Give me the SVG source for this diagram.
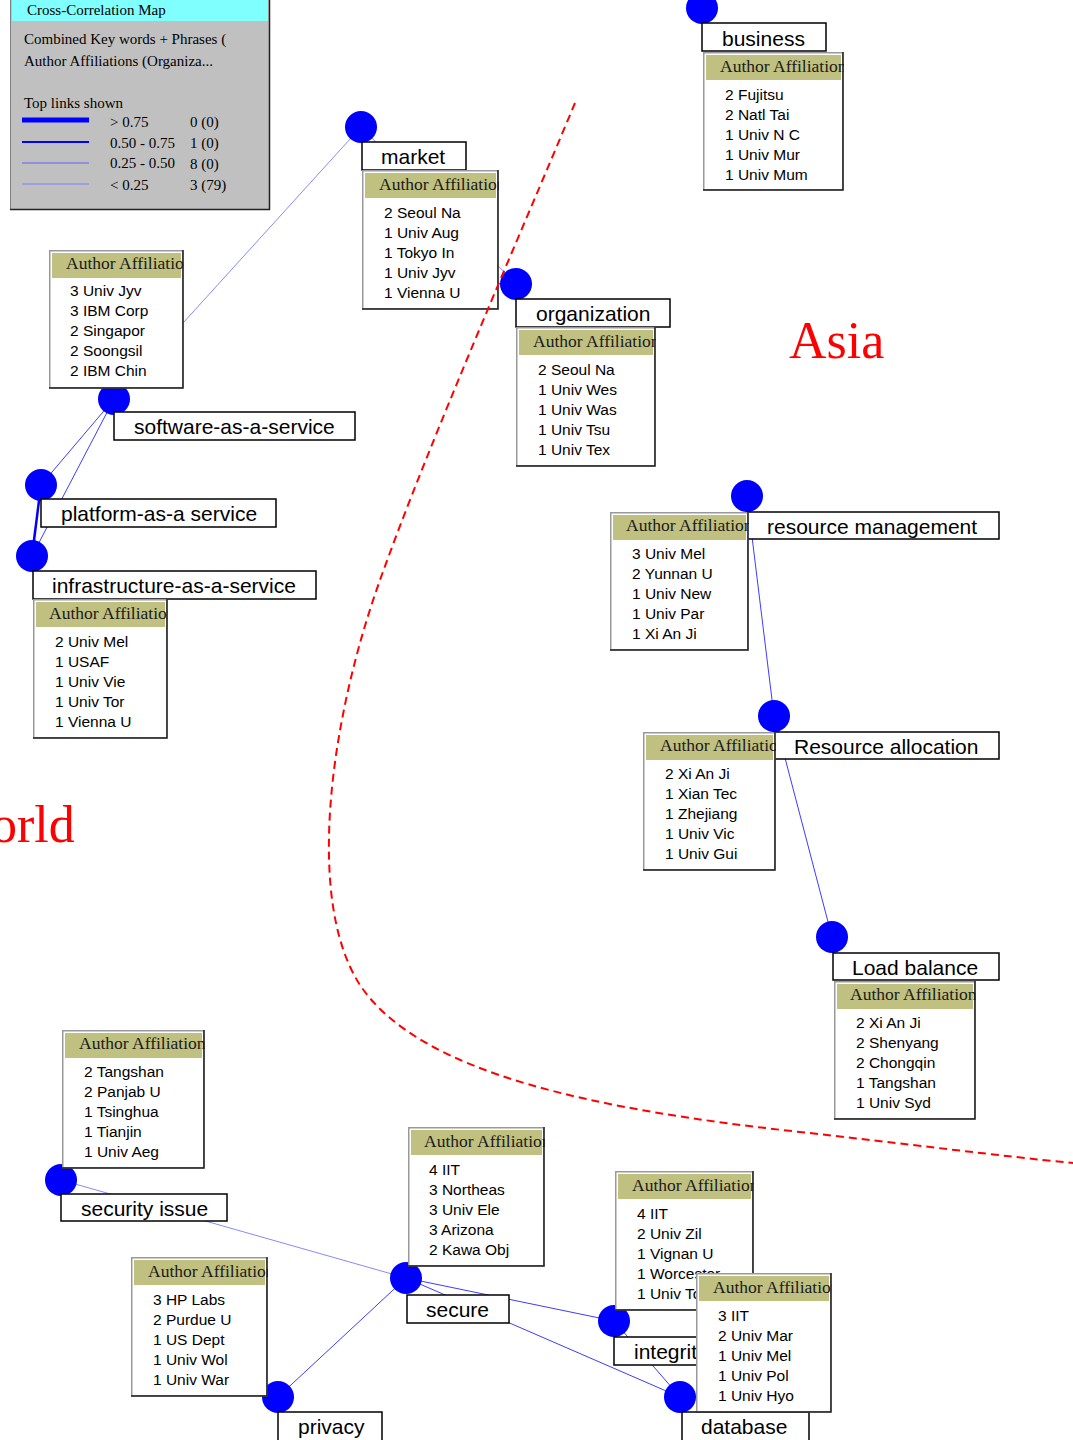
<svg xmlns="http://www.w3.org/2000/svg" width="1073" height="1440" viewBox="0 0 1073 1440">
  <style>
    .bg { fill: #ffffff; }
    .node { fill: #0000ff; }
    .lbl { fill: #ffffff; stroke: #000000; stroke-width: 1.5; }
    .lbltxt { font-family: "Liberation Sans", Arial, sans-serif; font-size: 21px; fill: #000000; }
    .box { fill: #ffffff; stroke: #999999; stroke-width: 1.5; }
    .boxedge { fill: none; stroke: #222222; stroke-width: 1.5; }
    .band { fill: #c0c080; }
    .head { font-family: "Liberation Serif", "Times New Roman", serif; font-size: 17.5px; fill: #1a1a1a; }
    .item { font-family: "Liberation Sans", Arial, sans-serif; font-size: 15.5px; fill: #000000; }
    .e1 { stroke: #0000ff; stroke-width: 2.5; fill: none; }
    .e2 { stroke: #3c3cff; stroke-width: 1; fill: none; }
    .e3 { stroke: #8888ff; stroke-width: 1; fill: none; }
    .legtxt { font-family: "Liberation Serif", "Times New Roman", serif; font-size: 15px; fill: #000000; }
    .region { font-family: "Liberation Serif", "Times New Roman", serif; font-size: 52px; fill: #ff0000; }
  </style>

  <rect class="bg" x="0" y="0" width="1073" height="1440"/>

  <!-- links between keyword nodes -->
  <g id="connectors">
    <line class="e3" x1="361" y1="127" x2="114" y2="399"/>
    <line class="e3" x1="361" y1="127" x2="516" y2="284"/>
    <line class="e2" x1="114" y1="399" x2="41" y2="485"/>
    <line class="e2" x1="114" y1="399" x2="32" y2="556"/>
    <line class="e1" x1="41" y1="485" x2="32" y2="556"/>
    <line class="e2" x1="747" y1="496" x2="774" y2="716"/>
    <line class="e2" x1="774" y1="716" x2="832" y2="937"/>
    <line class="e3" x1="61" y1="1180" x2="406" y2="1278"/>
    <line class="e2" x1="406" y1="1278" x2="278" y2="1397"/>
    <line class="e2" x1="406" y1="1278" x2="614" y2="1321"/>
    <line class="e2" x1="406" y1="1278" x2="680" y2="1397"/>
    <line class="e2" x1="614" y1="1321" x2="680" y2="1397"/>
  </g>

  <!-- legend panel -->
  <g id="legend">
    <rect x="10" y="0" width="260" height="210" fill="#c0c0c0"/>
    <rect x="12" y="0" width="256" height="21" fill="#80ffff"/>
    <line x1="10.5" y1="0" x2="10.5" y2="210" stroke="#808080" stroke-width="1"/>
    <polyline points="10,209.5 269.5,209.5 269.5,0" fill="none" stroke="#202020" stroke-width="1.5"/>
    <text class="legtxt" x="27" y="15" font-size="16.5">Cross-Correlation Map</text>
    <text class="legtxt" x="24" y="44">Combined Key words + Phrases (</text>
    <text class="legtxt" x="24" y="66">Author Affiliations (Organiza...</text>
    <text class="legtxt" x="24" y="108">Top links shown</text>
    <line x1="22" y1="120" x2="89" y2="120" stroke="#0000ff" stroke-width="5"/>
    <line x1="22" y1="142" x2="89" y2="142" stroke="#0000ff" stroke-width="2"/>
    <line x1="22" y1="163" x2="89" y2="163" stroke="#6060ff" stroke-width="1"/>
    <line x1="22" y1="184" x2="89" y2="184" stroke="#8080ff" stroke-width="1"/>
    <text class="legtxt" x="110" y="127">&gt; 0.75</text>
    <text class="legtxt" x="190" y="127">0 (0)</text>
    <text class="legtxt" x="110" y="148">0.50 - 0.75</text>
    <text class="legtxt" x="190" y="148">1 (0)</text>
    <text class="legtxt" x="110" y="168">0.25 - 0.50</text>
    <text class="legtxt" x="190" y="169">8 (0)</text>
    <text class="legtxt" x="110" y="190">&lt; 0.25</text>
    <text class="legtxt" x="190" y="190">3 (79)</text>
  </g>

  <g id="node-business">
    <circle class="node" cx="702" cy="8" r="16"/>
    <rect class="lbl" x="702" y="23" width="124" height="28"/>
    <text class="lbltxt" x="722" y="46">business</text>
    <svg x="703" y="52" width="141" height="139">
      <rect class="box" x="0.75" y="0.75" width="139" height="137"/>
      <polyline class="boxedge" points="0,138 140,138 140,0"/>
      <rect class="band" x="3" y="3" width="135" height="25"/>
      <text class="head" x="17" y="20">Author Affiliations</text>
      <text class="item" x="22" y="48">2 Fujitsu</text>
      <text class="item" x="22" y="68">2 Natl Tai</text>
      <text class="item" x="22" y="88">1 Univ N C</text>
      <text class="item" x="22" y="108">1 Univ Mur</text>
      <text class="item" x="22" y="128">1 Univ Mum</text>
    </svg>
  </g>

  <g id="node-market">
    <circle class="node" cx="361" cy="127" r="16"/>
    <rect class="lbl" x="362" y="142" width="104" height="28"/>
    <text class="lbltxt" x="381" y="164">market</text>
    <svg x="362" y="170" width="137" height="140">
      <rect class="box" x="0.75" y="0.75" width="135" height="138"/>
      <polyline class="boxedge" points="0,139 136,139 136,0"/>
      <rect class="band" x="3" y="3" width="131" height="25"/>
      <text class="head" x="17" y="20">Author Affiliations</text>
      <text class="item" x="22" y="48">2 Seoul Na</text>
      <text class="item" x="22" y="68">1 Univ Aug</text>
      <text class="item" x="22" y="88">1 Tokyo In</text>
      <text class="item" x="22" y="108">1 Univ Jyv</text>
      <text class="item" x="22" y="128">1 Vienna U</text>
    </svg>
  </g>

  <g id="node-organization">
    <circle class="node" cx="516" cy="284" r="16"/>
    <rect class="lbl" x="516" y="299" width="154" height="28"/>
    <text class="lbltxt" x="536" y="321">organization</text>
    <svg x="516" y="327" width="140" height="140">
      <rect class="box" x="0.75" y="0.75" width="138" height="138"/>
      <polyline class="boxedge" points="0,139 139,139 139,0"/>
      <rect class="band" x="3" y="3" width="134" height="25"/>
      <text class="head" x="17" y="20">Author Affiliations</text>
      <text class="item" x="22" y="48">2 Seoul Na</text>
      <text class="item" x="22" y="68">1 Univ Wes</text>
      <text class="item" x="22" y="88">1 Univ Was</text>
      <text class="item" x="22" y="108">1 Univ Tsu</text>
      <text class="item" x="22" y="128">1 Univ Tex</text>
    </svg>
  </g>

  <g id="node-software-as-a-service">
    <circle class="node" cx="114" cy="399" r="16"/>
    <rect class="lbl" x="114" y="412" width="241" height="28"/>
    <text class="lbltxt" x="134" y="434">software-as-a-service</text>
    <svg x="49" y="250" width="135" height="139">
      <rect class="box" x="0.75" y="0.75" width="133" height="137"/>
      <polyline class="boxedge" points="0,138 134,138 134,0"/>
      <rect class="band" x="3" y="3" width="129" height="25"/>
      <text class="head" x="17" y="19">Author Affiliations</text>
      <text class="item" x="21" y="46">3 Univ Jyv</text>
      <text class="item" x="21" y="66">3 IBM Corp</text>
      <text class="item" x="21" y="86">2 Singapor</text>
      <text class="item" x="21" y="106">2 Soongsil</text>
      <text class="item" x="21" y="126">2 IBM Chin</text>
    </svg>
  </g>

  <g id="node-platform-as-a-service">
    <circle class="node" cx="41" cy="485" r="16"/>
    <rect class="lbl" x="41" y="499" width="235" height="28"/>
    <text class="lbltxt" x="61" y="521">platform-as-a service</text>
  </g>

  <g id="node-infrastructure-as-a-service">
    <circle class="node" cx="32" cy="556" r="16"/>
    <rect class="lbl" x="33" y="571" width="283" height="28"/>
    <text class="lbltxt" x="52" y="593">infrastructure-as-a-service</text>
    <svg x="33" y="599" width="135" height="140">
      <rect class="box" x="0.75" y="0.75" width="133" height="138"/>
      <polyline class="boxedge" points="0,139 134,139 134,0"/>
      <rect class="band" x="3" y="3" width="129" height="25"/>
      <text class="head" x="16" y="20">Author Affiliations</text>
      <text class="item" x="22" y="48">2 Univ Mel</text>
      <text class="item" x="22" y="68">1 USAF</text>
      <text class="item" x="22" y="88">1 Univ Vie</text>
      <text class="item" x="22" y="108">1 Univ Tor</text>
      <text class="item" x="22" y="128">1 Vienna U</text>
    </svg>
  </g>

  <g id="node-resource-management">
    <circle class="node" cx="747" cy="496" r="16"/>
    <rect class="lbl" x="747" y="512" width="252" height="27"/>
    <text class="lbltxt" x="767" y="534">resource management</text>
    <svg x="610" y="512" width="139" height="139">
      <rect class="box" x="0.75" y="0.75" width="137" height="137"/>
      <polyline class="boxedge" points="0,138 138,138 138,0"/>
      <rect class="band" x="3" y="3" width="133" height="25"/>
      <text class="head" x="16" y="19">Author Affiliations</text>
      <text class="item" x="22" y="47">3 Univ Mel</text>
      <text class="item" x="22" y="67">2 Yunnan U</text>
      <text class="item" x="22" y="87">1 Univ New</text>
      <text class="item" x="22" y="107">1 Univ Par</text>
      <text class="item" x="22" y="127">1 Xi An Ji</text>
    </svg>
  </g>

  <g id="node-resource-allocation">
    <circle class="node" cx="774" cy="716" r="16"/>
    <rect class="lbl" x="774" y="732" width="225" height="27"/>
    <text class="lbltxt" x="794" y="754">Resource allocation</text>
    <svg x="643" y="732" width="133" height="139">
      <rect class="box" x="0.75" y="0.75" width="131" height="137"/>
      <polyline class="boxedge" points="0,138 132,138 132,0"/>
      <rect class="band" x="3" y="3" width="127" height="25"/>
      <text class="head" x="17" y="19">Author Affiliations</text>
      <text class="item" x="22" y="47">2 Xi An Ji</text>
      <text class="item" x="22" y="67">1 Xian Tec</text>
      <text class="item" x="22" y="87">1 Zhejiang</text>
      <text class="item" x="22" y="107">1 Univ Vic</text>
      <text class="item" x="22" y="127">1 Univ Gui</text>
    </svg>
  </g>

  <g id="node-load-balance">
    <circle class="node" cx="832" cy="937" r="16"/>
    <rect class="lbl" x="833" y="953" width="166" height="27"/>
    <text class="lbltxt" x="852" y="975">Load balance</text>
    <svg x="834" y="981" width="142" height="139">
      <rect class="box" x="0.75" y="0.75" width="140" height="137"/>
      <polyline class="boxedge" points="0,138 141,138 141,0"/>
      <rect class="band" x="3" y="3" width="136" height="25"/>
      <text class="head" x="16" y="19">Author Affiliations</text>
      <text class="item" x="22" y="47">2 Xi An Ji</text>
      <text class="item" x="22" y="67">2 Shenyang</text>
      <text class="item" x="22" y="87">2 Chongqin</text>
      <text class="item" x="22" y="107">1 Tangshan</text>
      <text class="item" x="22" y="127">1 Univ Syd</text>
    </svg>
  </g>

  <g id="node-security-issue">
    <circle class="node" cx="61" cy="1180" r="16"/>
    <rect class="lbl" x="61" y="1194" width="166" height="27"/>
    <text class="lbltxt" x="81" y="1216">security issue</text>
    <svg x="62" y="1030" width="143" height="139">
      <rect class="box" x="0.75" y="0.75" width="141" height="137"/>
      <polyline class="boxedge" points="0,138 142,138 142,0"/>
      <rect class="band" x="3" y="3" width="137" height="25"/>
      <text class="head" x="17" y="19">Author Affiliations</text>
      <text class="item" x="22" y="47">2 Tangshan</text>
      <text class="item" x="22" y="67">2 Panjab U</text>
      <text class="item" x="22" y="87">1 Tsinghua</text>
      <text class="item" x="22" y="107">1 Tianjin</text>
      <text class="item" x="22" y="127">1 Univ Aeg</text>
    </svg>
  </g>

  <g id="node-secure">
    <circle class="node" cx="406" cy="1278" r="16"/>
    <rect class="lbl" x="407" y="1295" width="102" height="28"/>
    <text class="lbltxt" x="426" y="1317">secure</text>
    <svg x="408" y="1127" width="137" height="140">
      <rect class="box" x="0.75" y="0.75" width="135" height="138"/>
      <polyline class="boxedge" points="0,139 136,139 136,0"/>
      <rect class="band" x="3" y="3" width="131" height="25"/>
      <text class="head" x="16" y="20">Author Affiliations</text>
      <text class="item" x="21" y="48">4 IIT</text>
      <text class="item" x="21" y="68">3 Northeas</text>
      <text class="item" x="21" y="88">3 Univ Ele</text>
      <text class="item" x="21" y="108">3 Arizona</text>
      <text class="item" x="21" y="128">2 Kawa Obj</text>
    </svg>
  </g>

  <g id="node-privacy">
    <circle class="node" cx="278" cy="1397" r="16"/>
    <rect class="lbl" x="278" y="1412" width="104" height="30"/>
    <text class="lbltxt" x="298" y="1434">privacy</text>
    <svg x="131" y="1257" width="137" height="140">
      <rect class="box" x="0.75" y="0.75" width="135" height="138"/>
      <polyline class="boxedge" points="0,139 136,139 136,0"/>
      <rect class="band" x="3" y="3" width="131" height="25"/>
      <text class="head" x="17" y="20">Author Affiliations</text>
      <text class="item" x="22" y="48">3 HP Labs</text>
      <text class="item" x="22" y="68">2 Purdue U</text>
      <text class="item" x="22" y="88">1 US Dept</text>
      <text class="item" x="22" y="108">1 Univ Wol</text>
      <text class="item" x="22" y="128">1 Univ War</text>
    </svg>
  </g>

  <g id="node-integrity">
    <circle class="node" cx="614" cy="1321" r="16"/>
    <rect class="lbl" x="614" y="1337" width="100" height="28"/>
    <text class="lbltxt" x="634" y="1359">integrity</text>
    <svg x="615" y="1171" width="139" height="140">
      <rect class="box" x="0.75" y="0.75" width="137" height="138"/>
      <polyline class="boxedge" points="0,139 138,139 138,0"/>
      <rect class="band" x="3" y="3" width="133" height="25"/>
      <text class="head" x="17" y="20">Author Affiliations</text>
      <text class="item" x="22" y="48">4 IIT</text>
      <text class="item" x="22" y="68">2 Univ Zil</text>
      <text class="item" x="22" y="88">1 Vignan U</text>
      <text class="item" x="22" y="108">1 Worcester</text>
      <text class="item" x="22" y="128">1 Univ Tor</text>
    </svg>
  </g>

  <g id="node-database">
    <circle class="node" cx="680" cy="1397" r="16"/>
    <rect class="lbl" x="682" y="1412" width="127" height="30"/>
    <text class="lbltxt" x="701" y="1434">database</text>
    <svg x="696" y="1273" width="136" height="140">
      <rect class="box" x="0.75" y="0.75" width="134" height="138"/>
      <polyline class="boxedge" points="0,139 135,139 135,0"/>
      <rect class="band" x="3" y="3" width="130" height="25"/>
      <text class="head" x="17" y="20">Author Affiliations</text>
      <text class="item" x="22" y="48">3 IIT</text>
      <text class="item" x="22" y="68">2 Univ Mar</text>
      <text class="item" x="22" y="88">1 Univ Mel</text>
      <text class="item" x="22" y="108">1 Univ Pol</text>
      <text class="item" x="22" y="128">1 Univ Hyo</text>
    </svg>
  </g>

  <!-- regional boundary and region names -->
  <g id="regions">
    <path d="M575,103 C520,235 430,440 380,580 C330,720 305,900 360,985 C420,1075 600,1110 800,1132 C900,1143 1000,1156 1073,1163" fill="none" stroke="#ff0000" stroke-width="2" stroke-dasharray="8,5"/>
    <text class="region" x="789" y="358">Asia</text>
    <text class="region" x="-9" y="842" font-size="50">orld</text>
  </g>
</svg>
